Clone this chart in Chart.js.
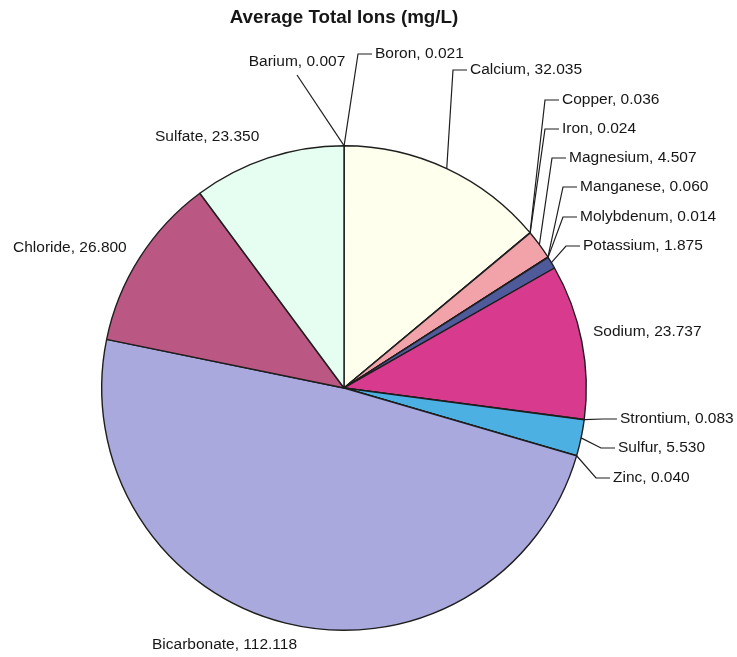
<!DOCTYPE html>
<html lang="en">
<head>
  <meta charset="UTF-8">
  <title>Average Total Ions</title>
  <script src="https://cdn.jsdelivr.net/npm/chart.js@4.4.0/dist/chart.umd.min.js"></script>
  <style>
    body { margin: 0; background: #fff; }
  </style>
</head>
<body>
  <canvas id="chart" width="737" height="657"></canvas>
  <script>
    // ions and their average concentration in mg/L
    const ions = ['Barium', 'Boron', 'Calcium', 'Copper', 'Iron', 'Magnesium', 'Manganese',
      'Molybdenum', 'Potassium', 'Sodium', 'Strontium', 'Sulfur', 'Zinc',
      'Bicarbonate', 'Chloride', 'Sulfate'];
    const avgMgL = [0.007, 0.021, 32.035, 0.036, 0.024, 4.507, 0.060,
      0.014, 1.875, 23.737, 0.083, 5.530, 0.040,
      112.118, 26.800, 23.350];

    const sliceColors = ['#9999ff', '#993366', '#ffffee', '#ccffff', '#660066', '#f2a3aa', '#0066cc',
      '#ccccff', '#4f5a9a', '#d83a8e', '#ece35a', '#4cb0e2', '#00ccff',
      '#a9a9de', '#bb5783', '#e6fdf1'];

    // where each label sits, relative to the pie centre: [dx, dy, align, leader]
    // leader: 'side' = line into the left of the text, 'under' = line to below text, null = none
    const labelSpots = [
      [-47, -326, 'center', 'under'],
      [31, -334, 'left', 'side'],
      [126, -318, 'left', 'side'],
      [218, -288, 'left', 'side'],
      [218, -259, 'left', 'side'],
      [225, -230, 'left', 'side'],
      [236, -201, 'left', 'side'],
      [236, -171, 'left', 'side'],
      [239, -142, 'left', 'side'],
      [249, -56, 'left', null],
      [276, 31, 'left', 'side'],
      [274, 60, 'left', 'side'],
      [269, 90, 'left', 'side'],
      [-192, 257, 'left', null],
      [-331, -140, 'left', null],
      [-189, -251, 'left', null]
    ];

    const labelFont = '15.5px "Liberation Sans", Arial, sans-serif';

    const outsideLabels = {
      id: 'outsideLabels',
      afterDatasetsDraw(chart) {
        const ctx = chart.ctx;
        const arcs = chart.getDatasetMeta(0).data;
        ctx.save();
        ctx.font = labelFont;
        ctx.textBaseline = 'middle';
        ctx.strokeStyle = '#1e1e1e';
        ctx.lineWidth = 1.2;
        ctx.fillStyle = '#161616';
        arcs.forEach((arc, i) => {
          const { x, y, startAngle, endAngle, outerRadius } = arc.getProps(['x', 'y', 'startAngle', 'endAngle', 'outerRadius'], true);
          const mid = (startAngle + endAngle) / 2;
          const ex = x + Math.cos(mid) * outerRadius;
          const ey = y + Math.sin(mid) * outerRadius;
          const [dx, dy, align, leader] = labelSpots[i];
          const tx = x + dx;
          const ty = y + dy;
          const text = ions[i] + ', ' + avgMgL[i].toFixed(3);

          if (leader === 'side') {
            ctx.beginPath();
            ctx.moveTo(ex, ey);
            ctx.lineTo(tx - 17, ty);
            ctx.lineTo(tx - 3, ty);
            ctx.stroke();
          } else if (leader === 'under') {
            ctx.beginPath();
            ctx.moveTo(ex, ey);
            ctx.lineTo(tx, ty + 13);
            ctx.stroke();
          }
          ctx.textAlign = align;
          ctx.fillText(text, tx, ty);
        });
        ctx.restore();
      }
    };

    new Chart(document.getElementById('chart'), {
      type: 'pie',
      data: {
        labels: ions,
        datasets: [{
          data: avgMgL,
          backgroundColor: sliceColors,
          borderColor: '#1e1e1e',
          borderWidth: 1.4
        }]
      },
      options: {
        responsive: false,
        animation: false,
        layout: { padding: { left: 101, right: 150, top: 0, bottom: 26 } },
        plugins: {
          legend: { display: false },
          tooltip: { enabled: false },
          title: {
            display: true,
            text: 'Average Total Ions (mg/L)',
            color: '#161616',
            font: { family: '"Liberation Sans", Arial, sans-serif', size: 18.8, weight: 'bold' },
            padding: { top: 7, bottom: 115.4 }
          }
        }
      },
      plugins: [outsideLabels]
    });
  </script>
</body>
</html>
